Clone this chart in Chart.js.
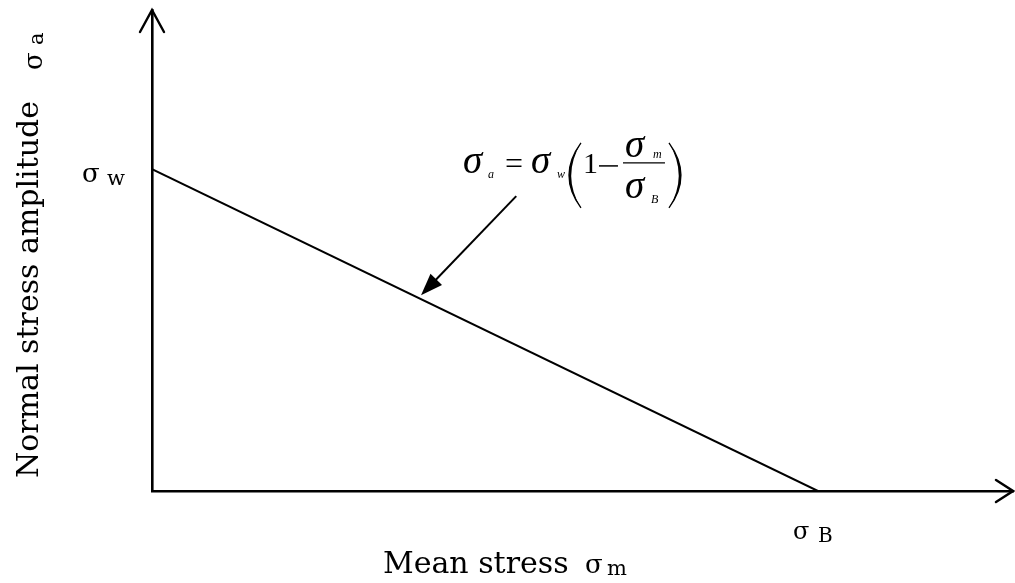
<!DOCTYPE html>
<html>
<head>
<meta charset="utf-8">
<title>Goodman diagram</title>
<script src="https://cdn.jsdelivr.net/npm/chart.js@4/dist/chart.umd.min.js"></script>
<style>
  html, body { margin: 0; padding: 0; background: #ffffff; }
  #wrap { width: 1015px; height: 583px; }
</style>
</head>
<body>
<div id="wrap"><canvas id="chart" width="1015" height="583"></canvas></div>
<script>
// Goodman line: amplitude falls linearly from σw at zero mean stress to zero at σB
const meanStress = [0, 1.0];        // σm / σB
const stressAmplitude = [1.0, 0];   // σa / σw
const axisExtent = { x: 1.293, y: 1.494 };

// Axis labels
const xTitle = "Mean stress";
const yTitle = "Normal stress amplitude";
const sigma = "\u03C3";

const SERIF = "'DejaVu Serif', serif";
const TIMES = "'Liberation Serif', 'Times New Roman', serif";

function text(ctx, str, x, y, font) {
  ctx.font = font;
  ctx.fillText(str, x, y);
}

// tall bracket: thin stroked curve plus a crescent that thickens the middle
function bracket(ctx, x, top, bottom, dir) {
  const mid = (top + bottom) / 2;
  const bulge = 24 * dir;
  ctx.lineWidth = 1.3;
  ctx.beginPath();
  ctx.moveTo(x, top);
  ctx.quadraticCurveTo(x - bulge, mid, x, bottom);
  ctx.stroke();
  ctx.beginPath();
  ctx.moveTo(x, top);
  ctx.quadraticCurveTo(x - bulge, mid, x, bottom);
  ctx.quadraticCurveTo(x - bulge + 4.5 * dir, mid, x, top);
  ctx.closePath();
  ctx.fill();
}

const goodmanDecor = {
  id: 'goodmanDecor',
  afterDraw(chart) {
    const ctx = chart.ctx;
    const xs = chart.scales.x, ys = chart.scales.y;
    const ox = xs.getPixelForValue(0), oy = ys.getPixelForValue(0);
    const xEnd = xs.right, yEnd = ys.top;
    ctx.save();
    ctx.fillStyle = '#000';
    ctx.strokeStyle = '#000';
    ctx.textAlign = 'left';
    ctx.textBaseline = 'alphabetic';

    // open arrowheads at the axis ends
    ctx.lineWidth = 2.4;
    ctx.lineCap = 'round';
    ctx.lineJoin = 'miter';
    ctx.beginPath();
    ctx.moveTo(ox - 12, yEnd + 22); ctx.lineTo(ox, yEnd); ctx.lineTo(ox + 12, yEnd + 22);
    ctx.stroke();
    ctx.beginPath();
    ctx.moveTo(xEnd - 17, oy - 11); ctx.lineTo(xEnd, oy); ctx.lineTo(xEnd - 17, oy + 11);
    ctx.stroke();

    // intercept labels
    const wy = ys.getPixelForValue(stressAmplitude[0]);
    text(ctx, sigma, ox - 70, wy + 13, '26px ' + SERIF);
    text(ctx, 'w', ox - 45, wy + 16, '21px ' + SERIF);
    const bx = xs.getPixelForValue(meanStress[1]);
    text(ctx, sigma, bx - 25, oy + 48, '24px ' + SERIF);
    text(ctx, 'B', bx, oy + 51, '20px ' + SERIF);

    // x axis title
    const tx = 383, tyb = oy + 82;
    text(ctx, xTitle, tx, tyb, '30px ' + SERIF);
    text(ctx, sigma, tx + 202, tyb, '26px ' + SERIF);
    text(ctx, 'm', tx + 224, tyb + 2, '21px ' + SERIF);

    // y axis title (rotated)
    ctx.save();
    ctx.translate(38, 478);
    ctx.rotate(-Math.PI / 2);
    text(ctx, yTitle, 0, 0, '30px ' + SERIF);
    ctx.restore();
    ctx.save();
    ctx.translate(42, 478);
    ctx.rotate(-Math.PI / 2);
    text(ctx, sigma, 408, 0, '26px ' + SERIF);
    ctx.restore();
    ctx.save();
    ctx.translate(43, 478);
    ctx.rotate(-Math.PI / 2);
    text(ctx, 'a', 433, 0, '21px ' + SERIF);
    ctx.restore();

    // leader arrow pointing at the line
    const tail = { x: xs.getPixelForValue(0.547), y: ys.getPixelForValue(0.916) };
    const tipX = 0.404;
    const tipY = stressAmplitude[0] + (stressAmplitude[1] - stressAmplitude[0]) * (tipX - meanStress[0]) / (meanStress[1] - meanStress[0]) + 0.012;
    const tip = { x: xs.getPixelForValue(tipX), y: ys.getPixelForValue(tipY) };
    const dx = tip.x - tail.x, dy = tip.y - tail.y, len = Math.hypot(dx, dy);
    const ux = dx / len, uy = dy / len;
    const hl = 22, hw = 8;
    ctx.lineWidth = 2;
    ctx.lineCap = 'butt';
    ctx.beginPath();
    ctx.moveTo(tail.x, tail.y);
    ctx.lineTo(tip.x - ux * hl * 0.8, tip.y - uy * hl * 0.8);
    ctx.stroke();
    ctx.beginPath();
    ctx.moveTo(tip.x, tip.y);
    ctx.lineTo(tip.x - ux * hl - uy * hw, tip.y - uy * hl + ux * hw);
    ctx.lineTo(tip.x - ux * hl + uy * hw, tip.y - uy * hl - ux * hw);
    ctx.closePath();
    ctx.fill();

    // formula  σa = σw (1 − σm / σB)
    const fx = xs.getPixelForValue(0.47), fy = ys.getPixelForValue(0.988);
    const big = 'italic 39px ' + TIMES, small = 'italic 12px ' + TIMES;
    text(ctx, sigma, fx - 2, fy, big);
    text(ctx, 'a', fx + 23, fy + 5, small);
    text(ctx, '=', fx + 40, fy + 1, '32px ' + TIMES);
    text(ctx, sigma, fx + 66, fy, big);
    text(ctx, 'w', fx + 92, fy + 5, small);
    bracket(ctx, fx + 116, fy - 30, fy + 35, 1);
    bracket(ctx, fx + 204, fy - 30, fy + 35, -1);
    text(ctx, '1', fx + 118, fy, '30px ' + TIMES);
    ctx.lineWidth = 1.5;
    ctx.beginPath();
    ctx.moveTo(fx + 134, fy - 7); ctx.lineTo(fx + 153, fy - 7);
    ctx.stroke();
    ctx.lineWidth = 1.3;
    ctx.beginPath();
    ctx.moveTo(fx + 158, fy - 10); ctx.lineTo(fx + 200, fy - 10);
    ctx.stroke();
    text(ctx, sigma, fx + 160, fy - 16, big);
    text(ctx, 'm', fx + 188, fy - 15, small);
    text(ctx, sigma, fx + 160, fy + 25, big);
    text(ctx, 'B', fx + 186, fy + 30, small);

    ctx.restore();
  }
};

const hiddenScale = (max) => ({
  type: 'linear',
  min: 0,
  max: max,
  grid: { display: false, drawTicks: false },
  ticks: { display: false },
  border: { display: true, color: '#000', width: 2.6 },
  title: { display: false }
});

new Chart(document.getElementById('chart'), {
  type: 'scatter',
  data: {
    datasets: [{
      data: meanStress.map((m, i) => ({ x: m, y: stressAmplitude[i] })),
      showLine: true,
      borderColor: '#000',
      borderWidth: 2,
      pointRadius: 0,
      tension: 0
    }]
  },
  options: {
    responsive: false,
    devicePixelRatio: 1,
    animation: false,
    layout: { padding: { left: 152, top: 10, right: 2, bottom: 92 } },
    plugins: { legend: { display: false }, tooltip: { enabled: false } },
    scales: { x: hiddenScale(axisExtent.x), y: hiddenScale(axisExtent.y) }
  },
  plugins: [goodmanDecor]
});
</script>
</body>
</html>
